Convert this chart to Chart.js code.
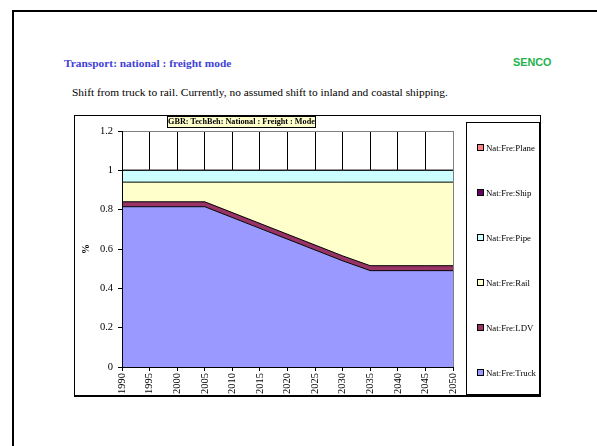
<!DOCTYPE html>
<html>
<head>
<meta charset="utf-8">
<title>Transport: national : freight mode</title>
<script src="https://cdn.jsdelivr.net/npm/chart.js@4"></script>
<style>
    html, body {
        margin: 0;
        padding: 0;
        width: 597px;
        height: 446px;
        overflow: hidden;
        background: #fff;
    }
    #page {
        position: absolute;
        left: 12px;
        top: 10px;
        width: 586px;
        height: 470px;
        box-sizing: border-box;
        border: 2px solid #000;
        border-right-width: 1px;
    }
    .heading {
        position: absolute;
        left: 64px;
        top: 56px;
        font: bold 11.4px "Liberation Serif", serif;
        line-height: 14px;
        color: #3f3fd8;
        white-space: nowrap;
    }
    .brand {
        position: absolute;
        left: 513px;
        top: 55px;
        font: bold 10.8px "Liberation Sans", sans-serif;
        line-height: 14px;
        color: #22b24c;
    }
    .note {
        position: absolute;
        left: 72px;
        top: 85px;
        font: 11.4px "Liberation Serif", serif;
        line-height: 14px;
        color: #000;
        white-space: nowrap;
    }
    #chartBox {
        position: absolute;
        left: 74px;
        top: 115px;
        width: 467px;
        height: 282px;
        box-sizing: border-box;
        border: 1px solid #000;
        border-bottom-width: 2px;
    }
    #freightChart {
        position: absolute;
        left: 74px;
        top: 115px;
    }
    #chartTitle {
        position: absolute;
        left: 167px;
        top: 116px;
        width: 149px;
        height: 12px;
        box-sizing: border-box;
        border: 1px solid #000;
        background: #ffffcc;
        font: bold 8.2px "Liberation Serif", serif;
        line-height: 10px;
        text-align: center;
        white-space: nowrap;
    }
    #legend {
        position: absolute;
        left: 466px;
        top: 122px;
        width: 74px;
        height: 273px;
        box-sizing: border-box;
        border: 1px solid #000;
        padding-top: 2px;
    }
    .legend-item {
        height: 45px;
        display: flex;
        align-items: center;
        padding-left: 10px;
        font: 8.8px "Liberation Serif", serif;
        white-space: nowrap;
    }
    .legend-item span.swatch {
        display: inline-block;
        width: 5px;
        height: 5px;
        border: 1px solid #000;
        margin-right: 2px;
    }
</style>
</head>
<body>
<div id="page"></div>
<div class="heading">Transport: national : freight mode</div>
<div class="brand">SENCO</div>
<div class="note">Shift from truck to rail. Currently, no assumed shift to inland and coastal shipping.</div>
<div id="chartBox"></div>
<canvas id="freightChart" width="467" height="281"></canvas>
<div id="chartTitle">GBR: TechBeh: National : Freight : Mode</div>
<div id="legend"></div>

<script>
// Years on the x axis
const years = ['1990', '1995', '2000', '2005', '2010', '2015', '2020', '2025', '2030', '2035', '2040', '2045', '2050'];

// Mode shares (stacked, bottom to top)
const truck = [0.815, 0.815, 0.815, 0.815, 0.76, 0.705, 0.65, 0.595, 0.54, 0.49, 0.49, 0.49, 0.49];
const ldv = [0.025, 0.025, 0.025, 0.025, 0.025, 0.025, 0.025, 0.025, 0.025, 0.025, 0.025, 0.025, 0.025];
const rail = [0.10, 0.10, 0.10, 0.10, 0.155, 0.21, 0.265, 0.32, 0.375, 0.425, 0.425, 0.425, 0.425];
const pipe = [0.06, 0.06, 0.06, 0.06, 0.06, 0.06, 0.06, 0.06, 0.06, 0.06, 0.06, 0.06, 0.06];
const ship = [0, 0, 0, 0, 0, 0, 0, 0, 0, 0, 0, 0, 0];
const plane = [0, 0, 0, 0, 0, 0, 0, 0, 0, 0, 0, 0, 0];

const seriesNames = ['Nat:Fre:Truck', 'Nat:Fre:LDV', 'Nat:Fre:Rail', 'Nat:Fre:Pipe', 'Nat:Fre:Ship', 'Nat:Fre:Plane'];
const seriesColors = ['#9999ff', '#993366', '#ffffcc', '#ccffff', '#660066', '#ff8080'];

// y axis ticks
const yTicks = [0, 0.2, 0.4, 0.6, 0.8, 1, 1.2];

const serif = '"Liberation Serif", "Times New Roman", serif';

function makeDataset(i, values) {
    return {
        label: seriesNames[i],
        data: values,
        backgroundColor: seriesColors[i],
        borderColor: '#000',
        borderWidth: 1,
        pointRadius: 0,
        tension: 0,
        fill: i === 0 ? 'origin' : '-1'
    };
}

const datasets = [truck, ldv, rail, pipe, ship, plane].map((values, i) => makeDataset(i, values));

const ctx = document.getElementById('freightChart').getContext('2d');
const chart = new Chart(ctx, {
    type: 'line',
    data: {
        labels: years,
        datasets: datasets
    },
    options: {
        responsive: false,
        animation: false,
        layout: {
            padding: { left: 4, right: 88, top: 16, bottom: 0 }
        },
        plugins: {
            legend: { display: false },
            tooltip: { enabled: false }
        },
        scales: {
            x: {
                offset: false,
                grid: {
                    color: c => (c.index === years.length - 1 ? '#808080' : '#000'),
                    tickColor: '#000',
                    tickLength: 4,
                    drawOnChartArea: true
                },
                border: { color: '#000', z: 1 },
                ticks: {
                    autoSkip: false,
                    minRotation: 90,
                    maxRotation: 90,
                    padding: 2,
                    color: '#000',
                    font: { family: serif, size: 10.5 }
                },
                afterFit: scale => { scale.height = 29; }
            },
            y: {
                stacked: true,
                min: 0,
                max: 1.2,
                afterBuildTicks: scale => {
                    scale.ticks = yTicks.map(v => ({ value: v }));
                },
                grid: {
                    color: '#808080',
                    tickColor: '#000',
                    tickLength: 4
                },
                border: { color: '#000', z: 1 },
                ticks: {
                    padding: 5,
                    color: '#000',
                    font: { family: serif, size: 10.5 }
                    ,
                    callback: v => String(+v.toFixed(1))
                },
                title: {
                    display: true,
                    text: '%',
                    color: '#000',
                    font: { family: serif, size: 10, weight: 'bold' },
                    padding: 2
                },
                afterFit: scale => { scale.width = 44; }
            }
        }
    }
});

// Legend: top entry is the last series, like the stacked order
function renderLegend() {
    const legend = document.getElementById('legend');
    legend.innerHTML = seriesNames.map((name, i) => ({ name, color: seriesColors[i] }))
        .reverse()
        .map(s => `<div class="legend-item"><span class="swatch" style="background:${s.color}"></span>${s.name}</div>`)
        .join('');
}

renderLegend();
console.log('chart area', chart.chartArea);
</script>
</body>
</html>
